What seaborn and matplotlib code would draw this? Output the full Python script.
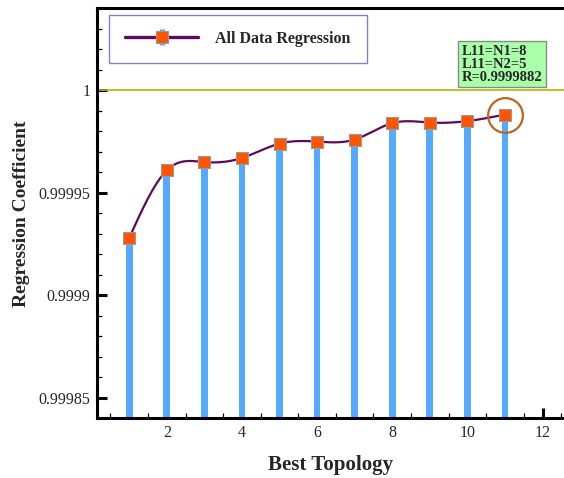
import numpy as np
import pandas as pd
import seaborn as sns
import matplotlib
matplotlib.use("Agg")
import matplotlib.pyplot as plt
from matplotlib.lines import Line2D
from matplotlib.ticker import MultipleLocator, FuncFormatter

# Regression coefficient of each candidate topology
topology = [1, 2, 3, 4, 5, 6, 7, 8, 9, 10, 11]
regression = [0.999928, 0.999961, 0.999965, 0.999967, 0.999974, 0.999975,
              0.999976, 0.999984, 0.9999843, 0.999985, 0.9999882]
best_index = 10
best_label = ["L11=N1=8", "L11=N2=5", "R=0.9999882"]
legend_label = "All Data Regression"
x_label = "Best Topology"
y_label = "Regression Coefficient"

BAR_BLUE = "#55AAFF"
LINE_PURPLE = "#5E0A5C"
MARKER_ORANGE = "#FF5500"
REF_OLIVE = "#B4B400"
CIRCLE_BROWN = "#B8671C"

sns.set_style("white")
plt.rcParams["font.family"] = ["Liberation Serif", "DejaVu Serif"]
plt.rcParams["mathtext.fontset"] = "stix"


def natural_spline(x, y, xs):
    """Natural cubic spline through (x, y), evaluated at xs."""
    x = np.asarray(x, float)
    y = np.asarray(y, float)
    n = len(x)
    h = np.diff(x)
    A = np.zeros((n, n))
    b = np.zeros(n)
    A[0, 0] = A[-1, -1] = 1.0
    for i in range(1, n - 1):
        A[i, i - 1] = h[i - 1]
        A[i, i] = 2 * (h[i - 1] + h[i])
        A[i, i + 1] = h[i]
        b[i] = 6 * ((y[i + 1] - y[i]) / h[i] - (y[i] - y[i - 1]) / h[i - 1])
    M = np.linalg.solve(A, b)
    idx = np.clip(np.searchsorted(x, xs) - 1, 0, n - 2)
    x0, x1 = x[idx], x[idx + 1]
    hh = x1 - x0
    t0, t1 = x1 - xs, xs - x0
    return (M[idx] * t0 ** 3 / (6 * hh) + M[idx + 1] * t1 ** 3 / (6 * hh)
            + (y[idx] / hh - M[idx] * hh / 6) * t0
            + (y[idx + 1] / hh - M[idx + 1] * hh / 6) * t1)


df = pd.DataFrame({"topology": topology, "regression": regression})

fig = plt.figure(figsize=(5.64, 4.78), dpi=100)
ax = fig.add_axes([0.1725, 0.125, 0.8275, 0.8575])

# Vertical bars under each point
sns.barplot(data=df, x="topology", y="regression", native_scale=True,
            width=0.18, color=BAR_BLUE, saturation=1, errorbar=None,
            linewidth=0, ax=ax, zorder=1)

# Smooth curve through the points
xs = np.linspace(topology[0], topology[-1], 400)
smooth = pd.DataFrame({"x": xs, "y": natural_spline(topology, regression, xs)})
sns.lineplot(data=smooth, x="x", y="y", color=LINE_PURPLE, linewidth=1.6,
             ax=ax, zorder=2)

sns.scatterplot(data=df, x="topology", y="regression", marker="s", s=70,
                color=MARKER_ORANGE, edgecolor="#9A9A9A", linewidth=0.8,
                ax=ax, zorder=3)

# Reference line at R = 1
ax.axhline(1.0, color=REF_OLIVE, linewidth=1.2, zorder=1.5)

# Highlight the best topology
ax.plot([topology[best_index]], [regression[best_index]], marker="o",
        markersize=25, markerfacecolor="none", markeredgecolor=CIRCLE_BROWN,
        markeredgewidth=1.6, linestyle="none", zorder=4)

ax.set_xlim(0.15, 12.57)
ax.set_ylim(0.99984, 1.00004)

ax.xaxis.set_major_locator(MultipleLocator(2))
ax.xaxis.set_minor_locator(MultipleLocator(0.5))
ax.yaxis.set_major_locator(MultipleLocator(0.00005))
ax.yaxis.set_minor_locator(MultipleLocator(0.00001))
ax.yaxis.set_major_formatter(
    FuncFormatter(lambda v, p: f"{v:.5f}".rstrip("0").rstrip(".")))
ax.xaxis.set_major_formatter(FuncFormatter(lambda v, p: f"{v:g}"))

ax.tick_params(which="both", direction="in", color="black")
ax.tick_params(which="major", length=7.2, width=2.2, labelsize=11.5, pad=5)
ax.tick_params(which="minor", length=3.6, width=0.9)
ax.tick_params(axis="both", which="both", left=True, bottom=True,
               top=False, right=False)

for side in ("left", "bottom", "top"):
    ax.spines[side].set_visible(True)
    ax.spines[side].set_color("black")
    ax.spines[side].set_linewidth(2.2)
ax.spines["right"].set_visible(False)

ax.set_xlabel(x_label, fontsize=15, fontweight="bold", labelpad=10)
ax.set_ylabel(y_label, fontsize=14, fontweight="bold", labelpad=6)

# Legend: line with square marker over a short blue bar
bar_handle = Line2D([], [], marker="|", markersize=12, markeredgewidth=3.6,
                    color=BAR_BLUE, linestyle="none")
line_handle = Line2D([], [], color=LINE_PURPLE, linewidth=2.4, marker="s",
                     markersize=8, markerfacecolor=MARKER_ORANGE,
                     markeredgecolor="#9A9A9A", markeredgewidth=0.8)
leg = ax.legend([(bar_handle, line_handle)], [legend_label],
                loc="upper left", bbox_to_anchor=(109 / 564, 1 - 15 / 478),
                bbox_transform=fig.transFigure, borderaxespad=0,
                frameon=True, fancybox=False, handlelength=4.6,
                handletextpad=1.05, borderpad=1.0,
                prop={"family": "Liberation Serif", "weight": "bold",
                      "size": 11.5})
leg.get_frame().set_edgecolor("#8080C8")
leg.get_frame().set_linewidth(1.0)
leg.get_frame().set_alpha(1)

fig.text(462 / 564, 1 - 45 / 478, "\n".join(best_label), ha="left", va="top",
         fontsize=10.5, fontweight="bold", linespacing=0.98,
         bbox=dict(boxstyle="square,pad=0.25", facecolor="#AAFFAA",
                   edgecolor="#8A8A8A", linewidth=1.0))

fig.savefig("out.png", dpi=100)
